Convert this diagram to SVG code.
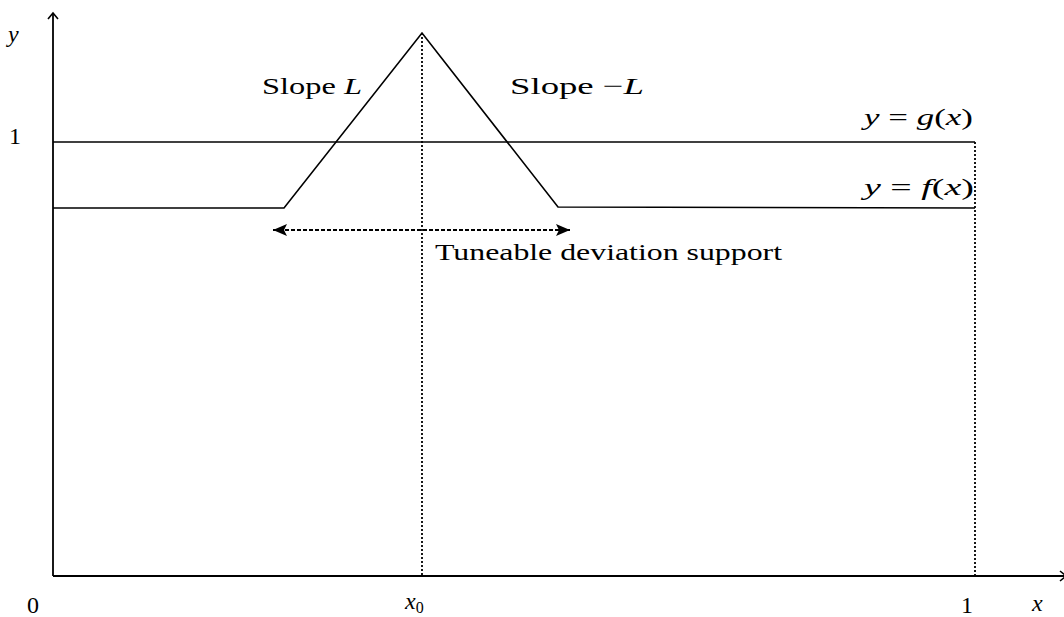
<svg xmlns="http://www.w3.org/2000/svg" width="1064" height="617" viewBox="0 0 1064 617">
<style>
.t{font-family:"Liberation Serif","DejaVu Serif",serif;font-size:24px;fill:#000}
.i{font-style:italic}
.ax{stroke:#000;stroke-width:1.8;fill:none}
.ln{stroke:#000;stroke-width:1.6;fill:none}
.dot{stroke:#000;stroke-width:1.8;stroke-dasharray:2 2;fill:none}
.dash{stroke:#000;stroke-width:1.8;stroke-dasharray:4 2;fill:none}
</style>
<defs>
<marker id="open" markerWidth="12" markerHeight="12" refX="9" refY="6" orient="auto" markerUnits="userSpaceOnUse">
<path d="M3,1 L9,6 L3,11" fill="none" stroke="#000" stroke-width="1.6"/>
</marker>
<marker id="fill" markerWidth="16" markerHeight="14" refX="14" refY="7" orient="auto-start-reverse" markerUnits="userSpaceOnUse">
<path d="M0,1 L14,7 L0,13 L3,7 Z" fill="#000"/>
</marker>
</defs>
<g id="connectors">
<line class="ax" x1="53" y1="576" x2="53" y2="13" marker-end="url(#open)"/>
<line class="ax" x1="53" y1="576" x2="1066" y2="576" marker-end="url(#open)"/>
<line class="dot" x1="422" y1="33" x2="422" y2="575"/>
<line class="dot" x1="975" y1="142" x2="975" y2="575"/>
<line class="dash" x1="273" y1="230" x2="570" y2="230" marker-start="url(#fill)" marker-end="url(#fill)"/>
</g>
<g id="g-curve">
<line class="ln" x1="53" y1="142" x2="975" y2="142"/>
</g>
<g id="f-curve">
<polyline class="ln" points="53,208 284,208 422,33 558,207 975,208"/>
</g>
<g id="labels">
<text class="t i" x="8" y="42">y</text>
<text class="t" x="9" y="144">1</text>
<text class="t" x="262" y="94" textLength="100" lengthAdjust="spacingAndGlyphs">Slope <tspan class="i">L</tspan></text>
<text class="t" x="510" y="94" textLength="134" lengthAdjust="spacingAndGlyphs">Slope −<tspan class="i">L</tspan></text>
<text class="t" x="864" y="125" textLength="109" lengthAdjust="spacingAndGlyphs"><tspan class="i">y</tspan> = <tspan class="i">g</tspan>(<tspan class="i">x</tspan>)</text>
<text class="t" x="864" y="195" textLength="110" lengthAdjust="spacingAndGlyphs"><tspan class="i">y</tspan> = <tspan class="i">f</tspan>(<tspan class="i">x</tspan>)</text>
<text class="t" x="435" y="260" textLength="347" lengthAdjust="spacingAndGlyphs">Tuneable deviation support</text>
<text class="t" x="27" y="613">0</text>
<text class="t i" x="405" y="609">x<tspan font-size="16" font-style="normal" dy="4">0</tspan></text>
<text class="t" x="961" y="613">1</text>
<text class="t i" x="1032" y="611">x</text>
</g>
</svg>
